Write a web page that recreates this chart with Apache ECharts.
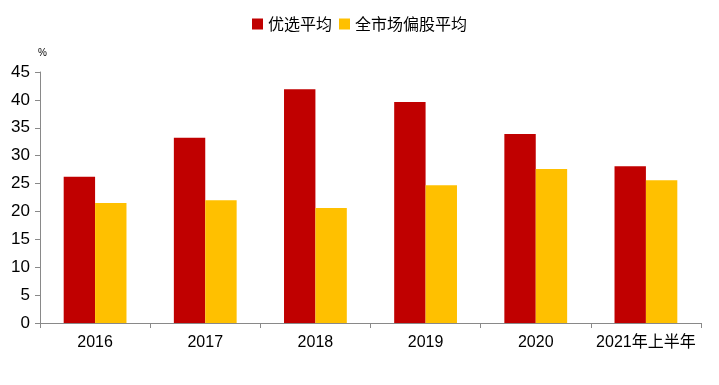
<!DOCTYPE html>
<html><head><meta charset="utf-8">
<script src="https://cdn.jsdelivr.net/npm/echarts@6/dist/echarts.min.js"></script>
<style>html,body{margin:0;padding:0;background:#fff}#c{width:719px;height:385px}</style>
</head><body><div id="c"></div>
<script>
const categories = ['2016','2017','2018','2019','2020','2021年上半年'];
const youxuan = [26.2, 33.2, 41.9, 39.6, 33.9, 28.1];
const market = [21.5, 22.0, 20.6, 24.7, 27.6, 25.6];
const yTicks = {min: 0, max: 45, interval: 5};
const font = '"Liberation Sans", "Noto Sans CJK SC", sans-serif';
const chart = echarts.init(document.getElementById('c'));
chart.setOption({
  animation: false,
  textStyle: {fontFamily: font},
  legend: {
    top: 11, left: 'center', itemWidth: 11, itemHeight: 11, itemGap: 7,
    icon: 'rect',
    textStyle: {fontSize: 16, color: '#000', fontFamily: '"Noto Sans CJK SC", sans-serif'},
    data: ['优选平均', '全市场偏股平均']
  },
  grid: {left: 40, right: 18, top: 72, bottom: 62, containLabel: false},
  xAxis: {
    type: 'category', data: categories,
    axisLine: {lineStyle: {color: '#898989', width: 1}},
    axisTick: {show: true, length: 5, lineStyle: {color: '#898989'}},
    axisLabel: {color: '#000', fontSize: 16, margin: 12, interval: 0, fontFamily: '"Liberation Sans", "Noto Sans CJK SC", sans-serif'}
  },
  yAxis: {
    type: 'value', min: yTicks.min, max: yTicks.max, interval: yTicks.interval,
    name: '%', nameLocation: 'end', nameGap: 14,
    nameTextStyle: {fontSize: 10, color: '#000', align: 'left', padding: [0,0,0,-2]},
    axisLine: {show: true, lineStyle: {color: '#898989', width: 1}},
    axisTick: {show: true, length: 5, lineStyle: {color: '#898989'}},
    splitLine: {show: false},
    axisLabel: {color: '#000', fontSize: 17, margin: 10}
  },
  series: [
    {name: '优选平均', type: 'bar', data: youxuan, barGap: '0%', barCategoryGap: '43%', itemStyle: {color: '#C00000'}},
    {name: '全市场偏股平均', type: 'bar', data: market, barGap: '0%', barCategoryGap: '43%', itemStyle: {color: '#FFC000'}}
  ]
});
</script></body></html>
